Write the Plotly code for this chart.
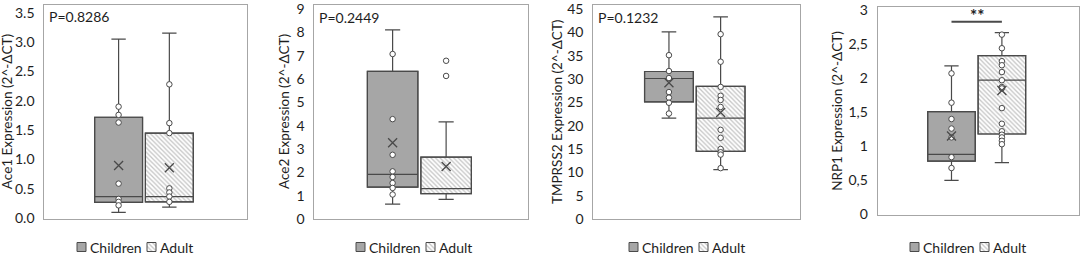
import plotly.graph_objects as go

# ---------------- data ----------------
GROUPS = ["Children", "Adult"]
GENES = ["Ace1", "Ace2", "TMPRSS2", "NRP1"]
Y_TITLES = ["Ace1 Expression (2^-ΔCT)", "Ace2 Expression (2^-ΔCT)",
            "TMPRSS2 Expression (2^-ΔCT)", "NRP1 Expression (2^-ΔCT)"]
P_LABELS = ["P=0.8286", "P=0.2449", "P=0.1232", ""]

# box stats: [lower whisker, Q1, median, Q3, upper whisker]
ACE1_CHILDREN_BOX = [0.10, 0.27, 0.37, 1.72, 3.05]
ACE1_ADULT_BOX = [0.19, 0.28, 0.37, 1.45, 3.15]
ACE1_MEAN = [0.90, 0.86]
ACE1_CHILDREN_PTS = [1.90, 1.76, 1.63, 0.59, 0.33, 0.28, 0.22]
ACE1_ADULT_PTS = [2.28, 1.62, 1.45, 0.51, 0.44, 0.37, 0.28]

ACE2_CHILDREN_BOX = [0.64, 1.37, 1.91, 6.33, 8.10]
ACE2_ADULT_BOX = [0.84, 1.09, 1.30, 2.65, 4.16]
ACE2_MEAN = [3.27, 2.25]
ACE2_CHILDREN_PTS = [7.07, 4.28, 2.75, 2.04, 1.80, 1.54, 1.33, 1.05]
ACE2_ADULT_PTS = [6.78, 6.13]

TMPRSS2_CHILDREN_BOX = [21.6, 25.1, 30.1, 31.6, 40.1]
TMPRSS2_ADULT_BOX = [10.6, 14.5, 21.6, 28.4, 43.3]
TMPRSS2_MEAN = [29.2, 22.8]
TMPRSS2_CHILDREN_PTS = [35.1, 31.7, 30.2, 27.2, 26.0, 24.9, 22.6]
TMPRSS2_ADULT_PTS = [39.6, 33.7, 28.3, 26.4, 25.5, 24.0, 19.1, 17.4, 15.0, 14.3, 13.8, 10.9]

NRP1_CHILDREN_BOX = [0.50, 0.78, 0.88, 1.51, 2.18]
NRP1_ADULT_BOX = [0.76, 1.18, 1.97, 2.33, 2.67]
NRP1_MEAN = [1.15, 1.82]
NRP1_CHILDREN_PTS = [2.07, 1.64, 1.40, 1.26, 1.13, 0.84, 0.68]
NRP1_ADULT_PTS = [2.64, 2.44, 2.25, 2.19, 2.09, 1.97, 1.87, 1.85, 1.56, 1.33,
                  1.22, 1.17, 1.13, 1.08, 1.03]
NRP1_SIG_Y = 2.83
NRP1_SIG_LABEL = "**"

Y_RANGES = [[-0.017, 3.63], [0, 9.17], [0, 45.85], [-0.01, 3.05]]
Y_DTICKS = [0.5, 1, 5, 0.5]
Y_FORMATS = [".1f", "", "", ""]
NRP1_TICKVALS = [0, 0.5, 1, 1.5, 2, 2.5, 3]
NRP1_TICKTEXT = ["0", "0,5", "1", "1,5", "2", "2,5", "3"]

# ---------------- style / layout ----------------
W, H = 1084, 256
FONT = "Lato"
TXT = "#1e1e1e"
EDGE = "#4a4a4a"
CHILD_FILL = "#a6a6a6"
HATCH = "#8c8c8c"
FRAME = "#a6a6a6"
X_POS = [0.366, 0.616]
BOX_W = 0.236
PATTERN = dict(shape="\\", fgcolor=HATCH, bgcolor="white", size=3.2, solidity=0.4)

# plot-area pixel boxes: (x0, x1, ytop, ybottom)
PIX = [(44.3, 247.3, 5, 219.3), (314.3, 528.3, 5, 219),
       (593.3, 800, 5, 219), (877.7, 1079.3, 6.7, 215)]
TITLE_X = [7, 284, 557, 837]
LEGEND_X0 = [77, 356, 629, 910]
LEGEND_STEP = 70
LEGEND_Y = 247
LEGEND_STRIP = 30  # height (px) of the legend strip at the bottom
ICON = 9

panels = [
    (ACE1_CHILDREN_BOX, ACE1_ADULT_BOX, ACE1_MEAN, ACE1_CHILDREN_PTS, ACE1_ADULT_PTS),
    (ACE2_CHILDREN_BOX, ACE2_ADULT_BOX, ACE2_MEAN, ACE2_CHILDREN_PTS, ACE2_ADULT_PTS),
    (TMPRSS2_CHILDREN_BOX, TMPRSS2_ADULT_BOX, TMPRSS2_MEAN, TMPRSS2_CHILDREN_PTS, TMPRSS2_ADULT_PTS),
    (NRP1_CHILDREN_BOX, NRP1_ADULT_BOX, NRP1_MEAN, NRP1_CHILDREN_PTS, NRP1_ADULT_PTS),
]

fig = go.Figure()
layout = dict(width=W, height=H, margin=dict(l=0, r=0, t=0, b=0, autoexpand=False),
              paper_bgcolor="white", plot_bgcolor="rgba(0,0,0,0)",
              barmode="overlay", boxmode="overlay", showlegend=False,
              font=dict(family=FONT, color=TXT, size=13), annotations=[])

# pixel-coordinate axes covering only the bottom legend strip
layout["xaxis5"] = dict(domain=[0, 1], range=[0, W], anchor="y5", showgrid=False,
                        zeroline=False, showticklabels=False, showline=False, ticks="")
layout["yaxis5"] = dict(domain=[0, LEGEND_STRIP / H], range=[H, H - LEGEND_STRIP],
                        anchor="x5", showgrid=False, zeroline=False,
                        showticklabels=False, showline=False, ticks="")

for i, (cbox, abox, means, cpts, apts) in enumerate(panels):
    n = i + 1
    xa = "x" if n == 1 else f"x{n}"
    ya = "y" if n == 1 else f"y{n}"
    boxes = [cbox, abox]
    pts = [cpts, apts]
    for g, gname in enumerate(GROUPS):
        lo, q1, med, q3, hi = boxes[g]
        if g == 0:
            marker = dict(color=CHILD_FILL, line=dict(color=EDGE, width=1.2))
            icon_marker = dict(color=CHILD_FILL, line=dict(color=EDGE, width=1))
        else:
            marker = dict(color="white", line=dict(color=EDGE, width=1.2),
                          pattern=PATTERN)
            icon_marker = dict(color="white", line=dict(color=EDGE, width=1),
                               pattern=PATTERN)
        fig.add_trace(go.Bar(x=[X_POS[g]], y=[q3 - q1], base=[q1], width=BOX_W,
                             marker=marker, name=gname,
                             xaxis=xa, yaxis=ya, hoverinfo="skip"))
        fig.add_trace(go.Box(x=[X_POS[g]], q1=[q1], median=[med], q3=[q3],
                             lowerfence=[lo], upperfence=[hi], width=BOX_W,
                             fillcolor="rgba(0,0,0,0)", line=dict(color=EDGE, width=1.2),
                             whiskerwidth=0.3, boxpoints=False,
                             xaxis=xa, yaxis=ya, hoverinfo="skip"))
        fig.add_trace(go.Scatter(x=[X_POS[g]] * len(pts[g]), y=pts[g], mode="markers",
                                 marker=dict(symbol="circle", size=5.5, color="white",
                                             line=dict(color=EDGE, width=1)),
                                 xaxis=xa, yaxis=ya, hoverinfo="skip"))
        fig.add_trace(go.Scatter(x=[X_POS[g]], y=[means[g]], mode="markers",
                                 marker=dict(symbol="x-thin", size=9,
                                             line=dict(color=EDGE, width=1.3)),
                                 xaxis=xa, yaxis=ya, hoverinfo="skip"))

        # legend entry (icon + label) in the pixel strip
        lx = LEGEND_X0[i] + g * LEGEND_STEP
        fig.add_trace(go.Bar(x=[lx + ICON / 2], y=[ICON], base=[LEGEND_Y - ICON / 2],
                             width=ICON, marker=icon_marker, name=gname,
                             xaxis="x5", yaxis="y5", hoverinfo="skip"))
        layout["annotations"].append(dict(text=gname, xref="x5", yref="y5",
                                          x=lx + ICON + 3, y=LEGEND_Y, xanchor="left",
                                          yanchor="middle", showarrow=False, borderpad=0,
                                          font=dict(size=14, family=FONT, color=TXT)))

    x0, x1, yt, yb = PIX[i]
    xdom = [x0 / W, x1 / W]
    ydom = [1 - yb / H, 1 - yt / H]
    axname = "xaxis" if n == 1 else f"xaxis{n}"
    ayname = "yaxis" if n == 1 else f"yaxis{n}"
    layout[axname] = dict(domain=xdom, range=[0, 1], anchor=ya, showticklabels=False,
                          showgrid=False, zeroline=False, showline=True, mirror=True,
                          linecolor=FRAME, linewidth=1, ticks="")
    yax = dict(domain=ydom, range=Y_RANGES[i], anchor=xa, showgrid=False, zeroline=False,
               showline=True, mirror=True, linecolor=FRAME, linewidth=1,
               ticks="outside", ticklen=6, tickcolor="rgba(255,255,255,0)",
               ticklabeloverflow="allow",
               tickfont=dict(size=14, family=FONT, color=TXT))
    if n == 4:
        yax.update(tickmode="array", tickvals=NRP1_TICKVALS, ticktext=NRP1_TICKTEXT)
    else:
        yax.update(dtick=Y_DTICKS[i], tick0=0, tickformat=Y_FORMATS[i])
    layout[ayname] = yax

    # y-axis title
    layout["annotations"].append(dict(text=Y_TITLES[i], xref="paper", yref="paper",
                                      x=TITLE_X[i] / W, y=1 - (yt + yb) / 2 / H,
                                      xanchor="center", yanchor="middle", textangle=-90,
                                      showarrow=False,
                                      font=dict(size=13.5, family=FONT, color=TXT)))
    if P_LABELS[i]:
        layout["annotations"].append(dict(text=P_LABELS[i], xref=f"{xa} domain",
                                          yref=f"{ya} domain", x=0.012,
                                          y=1 - 12 / (yb - yt), xanchor="left",
                                          yanchor="middle", showarrow=False,
                                          font=dict(size=14, family=FONT, color=TXT)))

# significance bar on NRP1
fig.add_trace(go.Scatter(x=X_POS, y=[NRP1_SIG_Y, NRP1_SIG_Y], mode="lines",
                         line=dict(color=EDGE, width=2),
                         xaxis="x4", yaxis="y4", hoverinfo="skip"))
layout["annotations"].append(dict(text=NRP1_SIG_LABEL, x=sum(X_POS) / 2, y=NRP1_SIG_Y,
                                  xref="x4", yref="y4", yanchor="bottom", yshift=-6,
                                  showarrow=False,
                                  font=dict(size=17, family=FONT, color=TXT, weight="bold")))

fig.update_layout(**layout)
fig.write_html("out.html", config={"displayModeBar": False},
               post_script="document.body.style.margin='0';"
                           "document.body.style.overflow='hidden';")
